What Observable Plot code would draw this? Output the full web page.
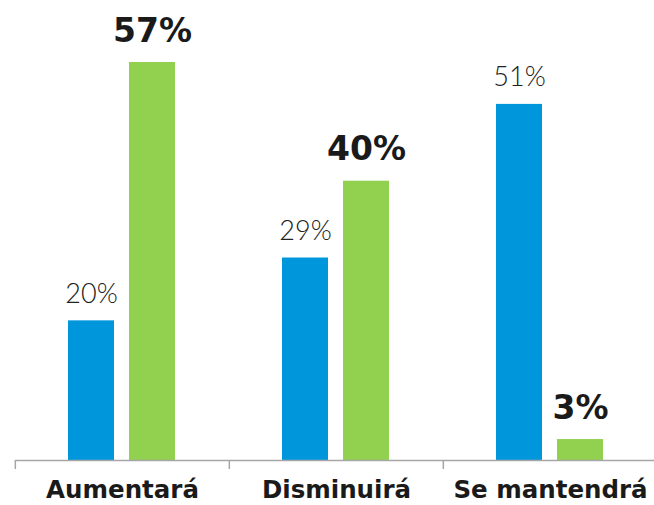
<!DOCTYPE html>
<html>
<head>
<meta charset="utf-8">
<script src="https://cdn.jsdelivr.net/npm/d3@7"></script>
<script src="https://cdn.jsdelivr.net/npm/@observablehq/plot@0.6"></script>
<style>
  html, body { margin: 0; padding: 0; background: #ffffff; overflow: hidden; }
  #chart svg { display: block; }
</style>
</head>
<body>
<div id="chart"></div>
<script>
const categories = ["Aumentará", "Disminuirá", "Se mantendrá"];
const seriesNames = ["Serie 1", "Serie 2"];
const blueValues = [20, 29, 51];
const greenValues = [57, 40, 3];
const seriesColors = ["#0096DC", "#92D050"];

const data = categories.flatMap((c, i) => [
  {category: c, series: seriesNames[0], value: blueValues[i]},
  {category: c, series: seriesNames[1], value: greenValues[i]}
]);

const width = 654, marginLeft = 14, marginRight = -3;
const halfBand = (width - marginLeft - marginRight) / categories.length / 2;

const chart = Plot.plot({
  width,
  height: 505,
  marginTop: 62,
  marginBottom: 45,
  marginLeft,
  marginRight,
  fx: {domain: categories, padding: 0, label: null},
  x: {domain: seriesNames, paddingInner: 0.242, paddingOuter: 0.851, axis: null},
  y: {domain: [0, 57], axis: null},
  color: {domain: seriesNames, range: seriesColors},
  style: {fontFamily: "DejaVu Sans", background: "#ffffff", overflow: "visible"},
  marks: [
    Plot.barY(data, {fx: "category", x: "series", y: "value", fill: "series"}),
    Plot.ruleY([0], {stroke: "#a6a6a6", strokeWidth: 1.5}),
    Plot.axisFx({anchor: "bottom", tickSize: 9, dx: -halfBand, tickFormat: () => "", stroke: "#a6a6a6", strokeWidth: 1.5, label: null}),
    Plot.axisFx({anchor: "bottom", tickSize: 0, tickPadding: 20, fontSize: 24.5, fontWeight: "bold", fill: "#1a1a1a", label: null}),
    Plot.text(data.filter(d => d.series === seriesNames[0]), {
      fx: "category", x: "series", y: "value", text: d => d.value + "%",
      lineAnchor: "bottom", dy: -18, fontSize: 27, fontWeight: 300, fontFamily: "Lato", fill: "#222222"
    }),
    Plot.text(data.filter(d => d.series === seriesNames[1]), {
      fx: "category", x: "series", y: "value", text: d => d.value + "%",
      lineAnchor: "bottom", dy: -21, fontSize: 33, fontWeight: "bold", fontFamily: "DejaVu Sans", fill: "#1a1a1a"
    })
  ]
});
document.getElementById("chart").appendChild(chart);
</script>
</body>
</html>
